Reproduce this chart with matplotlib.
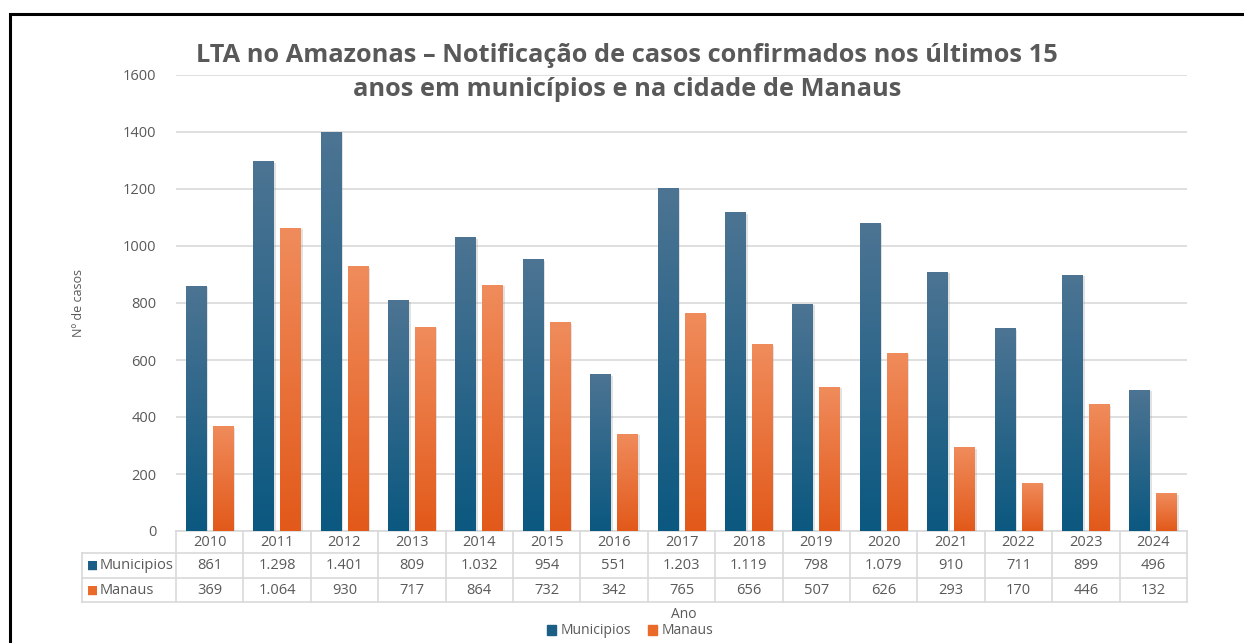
import numpy as np
import matplotlib.pyplot as plt
from matplotlib.colors import LinearSegmentedColormap
from matplotlib.patches import Rectangle
from matplotlib.lines import Line2D
import matplotlib.patheffects as pe

plt.rcParams['font.family'] = ['Open Sans', 'DejaVu Sans']

# Casos confirmados de LTA por ano
anos = ['2010', '2011', '2012', '2013', '2014', '2015', '2016', '2017',
        '2018', '2019', '2020', '2021', '2022', '2023', '2024']
municipios = [861, 1298, 1401, 809, 1032, 954, 551, 1203, 1119, 798, 1079, 910, 711, 899, 496]
manaus = [369, 1064, 930, 717, 864, 732, 342, 765, 656, 507, 626, 293, 170, 446, 132]

series = [
    {"name": "Municipios", "values": municipios, "top": "#4d7493", "bottom": "#0b5880", "key": "#1b5f86"},
    {"name": "Manaus", "values": manaus, "top": "#f08c5c", "bottom": "#e2591a", "key": "#ea6a2a"},
]

TEXT = '#595959'
GRID = '#d9d9d9'


def fmt(v):
    # thousands separator as in pt-BR
    return f"{v:,}".replace(',', '.')


fig = plt.figure(figsize=(12.44, 6.43), dpi=100)
ax = fig.add_axes([176 / 1244, (643 - 531) / 643, (1187 - 176) / 1244, 456 / 643])

# black frame around the chart (only top/left visible in the screenshot)
fig.patches.append(Rectangle((10 / 1244, -0.1), 1.2, (643 - 14) / 643 + 0.1,
                             transform=fig.transFigure, fill=False,
                             edgecolor='black', linewidth=2.2))

x = np.arange(len(anos))
width = 0.31
offsets = [-0.2, 0.2]

for s, off in zip(series, offsets):
    cmap = LinearSegmentedColormap.from_list(s["name"], [s["bottom"], s["top"]])
    bars = ax.bar(x + off, s["values"], width, color=s["key"], zorder=3,
                  path_effects=[pe.SimplePatchShadow(offset=(1.2, -1.2), shadow_rgbFace='#a0a0a0', alpha=0.3),
                                pe.Normal()])
    for b in bars:
        grad = np.linspace(0, 1, 256).reshape(-1, 1)
        im = ax.imshow(grad, cmap=cmap, origin='lower', aspect='auto', zorder=4,
                       extent=(b.get_x(), b.get_x() + b.get_width(), 0, b.get_height()))
        im.set_clip_path(b)

ax.set_xlim(-0.5, len(anos) - 0.5)
ax.set_ylim(0, 1600)
ax.set_yticks(range(0, 1601, 200))
ax.yaxis.grid(True, color=GRID, linewidth=1.2, zorder=0)
ax.set_xticks([])
ax.tick_params(axis='y', length=0, pad=14, labelsize=10.5, labelcolor=TEXT)
for sp in ax.spines.values():
    sp.set_visible(False)

# data table under the chart
tr = ax.get_xaxis_transform()
rows_y = [0, -22 / 456, -47 / 456, -71 / 456]
left_x = -0.5 - (176 - 82) / (1011 / 15)
lkw = dict(color=GRID, linewidth=1.2, transform=tr, clip_on=False)
ax.add_line(Line2D([-0.5, 14.5], [rows_y[0], rows_y[0]], **lkw))
for yy in rows_y[1:]:
    ax.add_line(Line2D([left_x, 14.5], [yy, yy], **lkw))
ax.add_line(Line2D([left_x, left_x], [rows_y[1], rows_y[3]], **lkw))
for xx in np.arange(-0.5, 15, 1):
    ax.add_line(Line2D([xx, xx], [rows_y[0], rows_y[3]], **lkw))

tkw = dict(transform=tr, ha='center', va='center', fontsize=10.5, color=TEXT, clip_on=False)
for i, a in enumerate(anos):
    ax.text(i, (rows_y[0] + rows_y[1]) / 2, a, **tkw)
for r, s in enumerate(series):
    yc = (rows_y[r + 1] + rows_y[r + 2]) / 2
    for i, v in enumerate(s["values"]):
        ax.text(i, yc, fmt(v), **tkw)
    ax.text(left_x + 0.08, yc, '■', transform=tr, ha='left', va='center',
            fontsize=8.5, color=s["key"], family='DejaVu Sans')
    ax.text(left_x + 0.26, yc, s["name"], transform=tr, ha='left', va='center',
            fontsize=10.5, color=TEXT)

fig.text(627 / 1244, 1 - 55 / 643, 'LTA no Amazonas – Notificação de casos confirmados nos últimos 15',
         ha='center', va='center', fontsize=18.3, fontweight='bold', color=TEXT)
fig.text(627 / 1244, 1 - 90 / 643, 'anos em municípios e na cidade de Manaus',
         ha='center', va='center', fontsize=18.3, fontweight='bold', color=TEXT)

fig.text(78 / 1244, 1 - 303 / 643, 'Nº de casos', rotation=90, ha='center', va='center',
         fontsize=9, color=TEXT)
fig.text(684 / 1244, 1 - 614 / 643, 'Ano', ha='center', va='center', fontsize=10, color=TEXT)

handles = [Rectangle((0, 0), 1, 1, color=s["key"]) for s in series]
fig.legend(handles, [s["name"] for s in series], loc='center', bbox_to_anchor=(630 / 1244, 1 - 631 / 643),
           ncol=2, frameon=False, fontsize=10, labelcolor=TEXT, handlelength=0.7, handleheight=0.7,
           handletextpad=0.3, columnspacing=1.2)

fig.savefig('out.png', dpi=100)
